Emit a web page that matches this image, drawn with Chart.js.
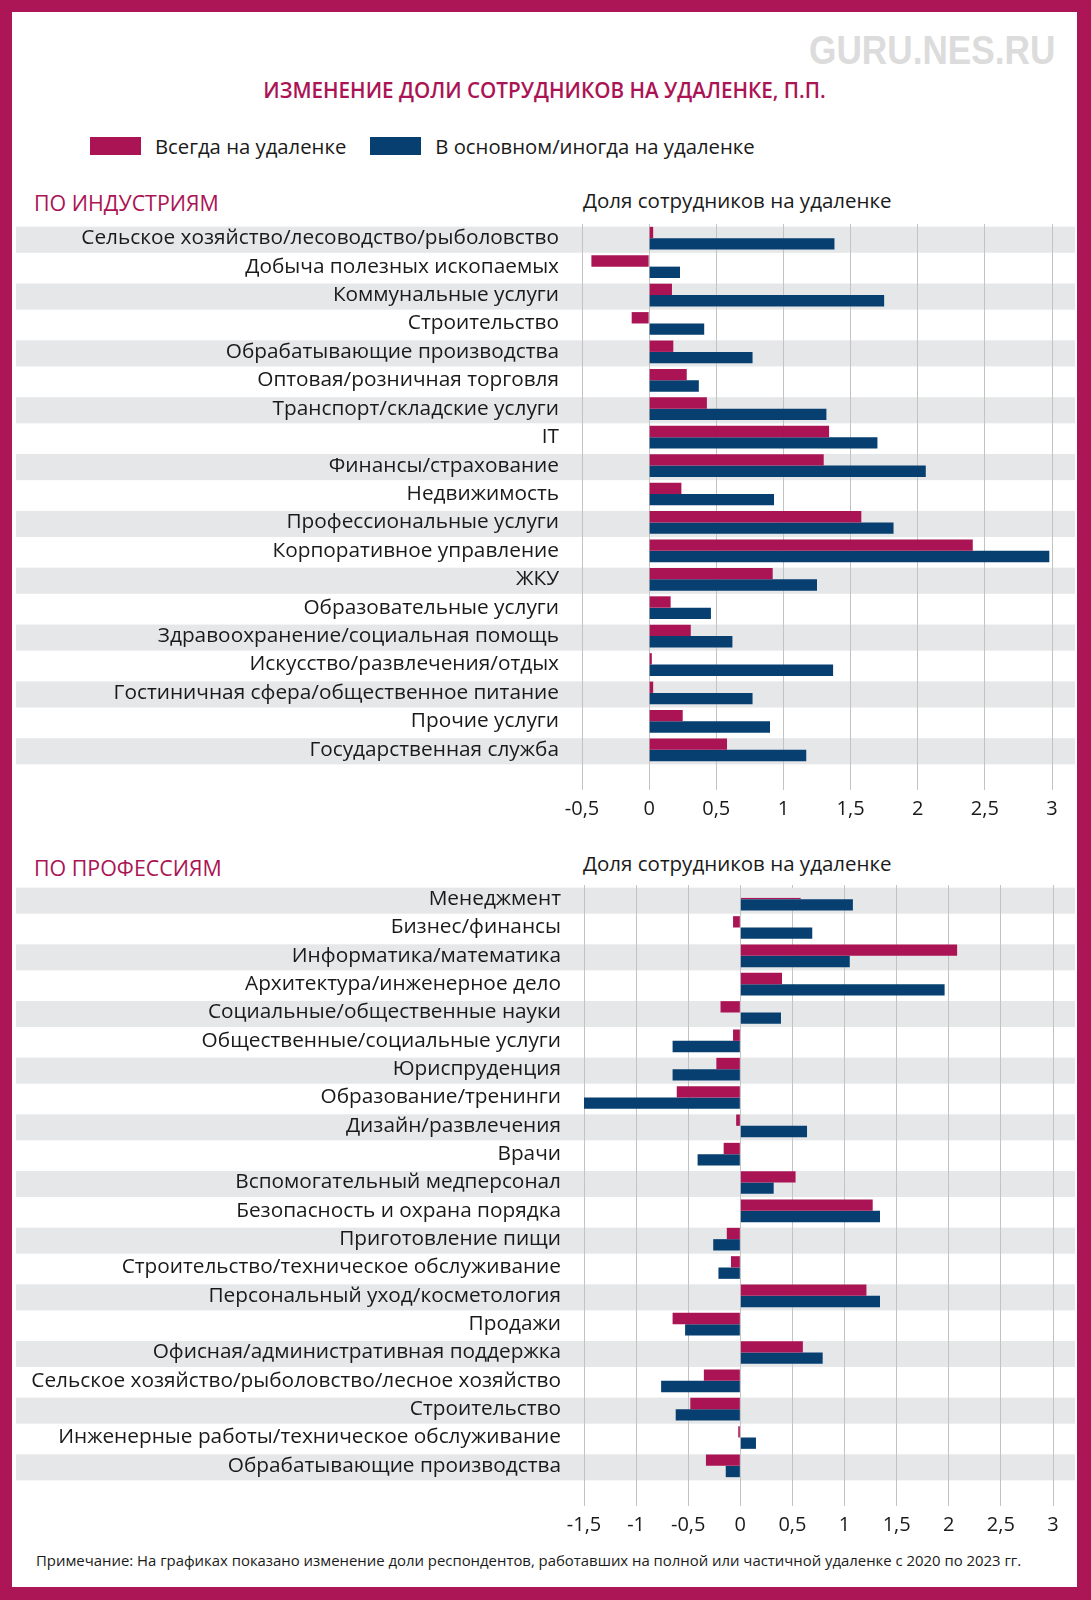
<!DOCTYPE html>
<html lang="ru">
<head>
<meta charset="utf-8">
<script src="https://cdn.jsdelivr.net/npm/chart.js@4/dist/chart.umd.min.js"></script>
<style>
  body { margin: 0; width: 1091px; height: 1600px; position: relative; background: #ac1556; font-family: 'Open Sans', sans-serif; color: #1a1a1a; }
  .inner { position: absolute; left: 12px; top: 12px; width: 1065px; height: 1575px; background: #fff; }
  .abs { position: absolute; white-space: nowrap; line-height: 1.2; }
  .wm { left: 809px; top: 28px; font: bold 40px 'Liberation Sans', sans-serif; color: #dcdcdc; transform: scaleX(0.88); transform-origin: left top; }
  .title { left: 12px; width: 1065px; top: 78px; text-align: center; font-weight: 600; font-size: 20.7px; color: #ab1454; }
  .legend { left: 90px; top: 134px; font-size: 20.3px; display: flex; align-items: center; }
  .legend span.box { display: inline-block; width: 51px; height: 18px; margin-right: 14px; }
  .legend span.lbl { margin-right: 24px; }
  .head { left: 34px; font-size: 21.4px; color: #ab1454; }
  .sub { left: 583px; font-size: 20.5px; }
  .note { left: 36px; top: 1552px; font-size: 14.9px; }
  .box2 { position: absolute; left: 12px; width: 1065px; }
</style>
</head>
<body>
<div class="inner"></div>
<div class="abs wm">GURU.NES.RU</div>
<div class="abs title">ИЗМЕНЕНИЕ ДОЛИ СОТРУДНИКОВ НА УДАЛЕНКЕ, П.П.</div>
<div class="abs legend" id="legend"></div>
<div class="abs head" style="top:189.5px">ПО ИНДУСТРИЯМ</div>
<div class="abs sub" style="top:188px">Доля сотрудников на удаленке</div>
<div class="box2" style="top:215px;height:609px"><canvas id="industryChart"></canvas></div>
<div class="abs head" style="top:855px">ПО ПРОФЕССИЯМ</div>
<div class="abs sub" style="top:850.5px">Доля сотрудников на удаленке</div>
<div class="box2" style="top:876px;height:664px"><canvas id="jobChart"></canvas></div>
<div class="abs note">Примечание: На графиках показано изменение доли респондентов, работавших на полной или частичной удаленке с 2020 по 2023 гг.</div>

<script>
// значения, изменение в п.п.
const seriesNames = ['Всегда на удаленке', 'В основном/иногда на удаленке'];

const industries = [
    'Сельское хозяйство/лесоводство/рыболовство', 'Добыча полезных ископаемых', 'Коммунальные услуги',
    'Строительство', 'Обрабатывающие производства', 'Оптовая/розничная торговля', 'Транспорт/складские услуги',
    'IT', 'Финансы/страхование', 'Недвижимость', 'Профессиональные услуги', 'Корпоративное управление',
    'ЖКУ', 'Образовательные услуги', 'Здравоохранение/социальная помощь', 'Искусство/развлечения/отдых',
    'Гостиничная сфера/общественное питание', 'Прочие услуги', 'Государственная служба'
];
const industryAlways = [0.03, -0.43, 0.17, -0.13, 0.18, 0.28, 0.43, 1.34, 1.30, 0.24, 1.58, 2.41, 0.92, 0.16, 0.31, 0.02, 0.03, 0.25, 0.58];
const industryMostly = [1.38, 0.23, 1.75, 0.41, 0.77, 0.37, 1.32, 1.70, 2.06, 0.93, 1.82, 2.98, 1.25, 0.46, 0.62, 1.37, 0.77, 0.90, 1.17];
const industryTicks = [-0.5, 0, 0.5, 1, 1.5, 2, 2.5, 3];

const jobs = [
    'Менеджмент', 'Бизнес/финансы', 'Информатика/математика', 'Архитектура/инженерное дело',
    'Социальные/общественные науки', 'Общественные/социальные услуги', 'Юриспруденция', 'Образование/тренинги',
    'Дизайн/развлечения', 'Врачи', 'Вспомогательный медперсонал', 'Безопасность и охрана порядка',
    'Приготовление пищи', 'Строительство/техническое обслуживание', 'Персональный уход/косметология', 'Продажи',
    'Офисная/административная поддержка', 'Сельское хозяйство/рыболовство/лесное хозяйство', 'Строительство',
    'Инженерные работы/техническое обслуживание', 'Обрабатывающие производства'
];
const jobAlways = [0.58, -0.07, 2.08, 0.40, -0.19, -0.07, -0.23, -0.61, -0.04, -0.16, 0.53, 1.27, -0.13, -0.09, 1.21, -0.65, 0.60, -0.35, -0.48, -0.02, -0.33];
const jobMostly = [1.08, 0.69, 1.05, 1.96, 0.39, -0.65, -0.65, -1.50, 0.64, -0.41, 0.32, 1.34, -0.26, -0.21, 1.34, -0.53, 0.79, -0.76, -0.62, 0.15, -0.14];
const jobTicks = [-1.5, -1, -0.5, 0, 0.5, 1, 1.5, 2, 2.5, 3];

const PINK = '#ab1454';
const BLUE = '#063f70';
const BAND = '#e6e7e9';

document.getElementById('legend').innerHTML = seriesNames.map((n, i) =>
    `<span class="box" style="background:${i ? BLUE : PINK}"></span><span class="lbl">${n}</span>`).join('');

// серые полосы через строку, во всю ширину
const bandPlugin = {
    id: 'bands',
    beforeDraw(chart) {
        const { ctx, scales: { y } } = chart;
        const step = y.getPixelForValue(1) - y.getPixelForValue(0);
        ctx.save();
        ctx.fillStyle = BAND;
        for (let i = 0; i < y.ticks.length; i += 2) {
            const c = y.getPixelForValue(i) + 1.5;
            ctx.fillRect(4, c - step * 0.46, chart.width - 6, step * 0.92);
        }
        ctx.restore();
    }
};

const fmt = v => String(v).replace('.', ',');

function makeChart(id, labels, always, mostly, ticks, yWidth, padRight) {
    // у "Менеджмента" розовый столбик в оригинале почти не виден
    const pinkFill = always.map(() => PINK);
    const pinkBorder = always.map(() => 0);
    if (id === 'jobChart') { pinkFill[0] = BAND; pinkBorder[0] = { bottom: 1.5 }; }
    new Chart(document.getElementById(id), {
        type: 'bar',
        data: {
            labels: labels,
            datasets: [
                { label: seriesNames[0], data: always, backgroundColor: pinkFill, borderColor: PINK, borderWidth: pinkBorder, borderSkipped: false },
                { label: seriesNames[1], data: mostly, backgroundColor: BLUE, borderWidth: 0 }
            ]
        },
        options: {
            indexAxis: 'y',
            responsive: true,
            maintainAspectRatio: false,
            animation: false,
            categoryPercentage: 0.8,
            barPercentage: 1.0,
            layout: { padding: { top: 9, right: padRight, left: 0, bottom: 0 } },
            plugins: { legend: { display: false }, tooltip: { enabled: false } },
            scales: {
                x: {
                    min: ticks[0], max: ticks[ticks.length - 1],
                    afterBuildTicks: s => { s.ticks = ticks.map(v => ({ value: v })); },
                    ticks: { callback: v => fmt(v), font: { family: 'Open Sans', size: 20 }, color: '#1a1a1a', padding: 7, maxRotation: 0 },
                    grid: { color: '#c3c3c3', tickLength: 26 },
                    border: { display: false },
                    afterFit: s => { s.height = 60; s.paddingLeft = 0; s.paddingRight = 0; }
                },
                y: {
                    ticks: { font: { family: 'Open Sans', size: 20.8 }, color: '#1a1a1a', padding: 23, autoSkip: false },
                    grid: { display: false, drawTicks: false },
                    border: { display: false },
                    afterFit: s => { s.width = yWidth; s.paddingTop = 0; s.paddingBottom = 0; }
                }
            }
        },
        plugins: [bandPlugin]
    });
}

makeChart('industryChart', industries, industryAlways, industryMostly, industryTicks, 570, 25);
makeChart('jobChart', jobs, jobAlways, jobMostly, jobTicks, 572, 24);
</script>
</body>
</html>
